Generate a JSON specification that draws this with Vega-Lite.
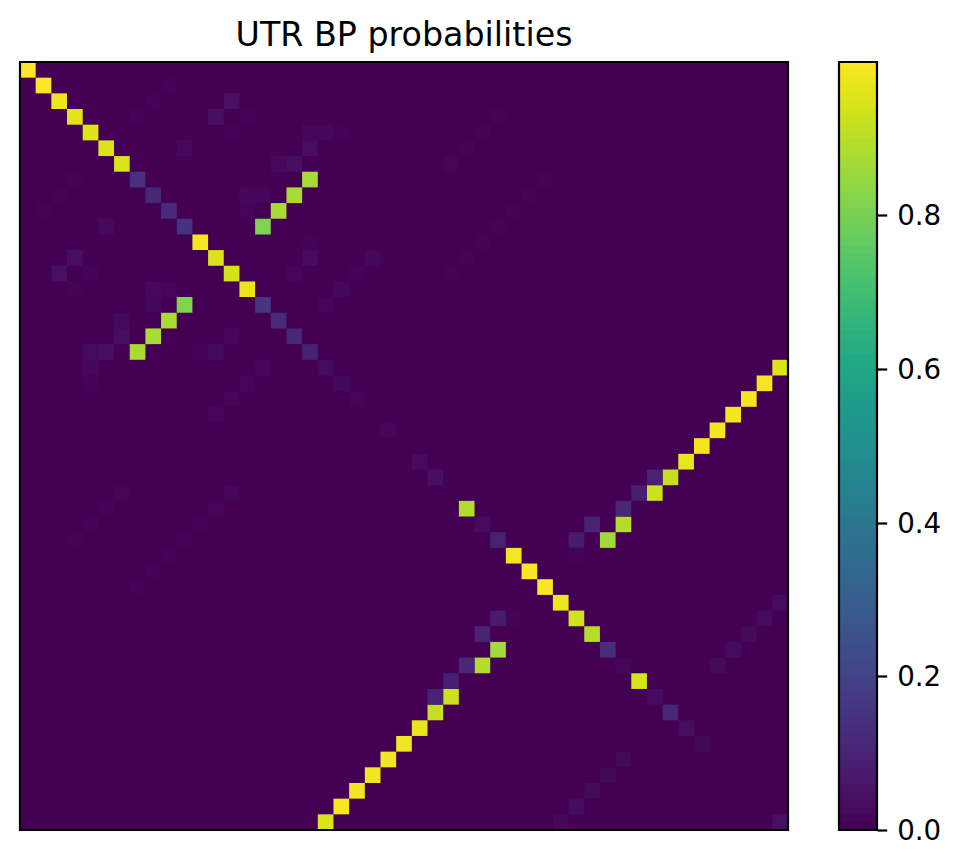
{"$schema":"https://vega.github.io/schema/vega-lite/v6.json","background":"white","padding":{"left":18,"top":18,"right":0,"bottom":30},"spacing":47,"config":{"font":"DejaVu Sans","view":{"stroke":null}},"hconcat":[{"width":768,"height":768,"title":{"text":"UTR BP probabilities","font":"DejaVu Sans","fontSize":33.3,"fontWeight":"normal","color":"black","anchor":"middle","offset":8},"view":{"fill":"#440154"},"layer":[{"data":{"values":[
{"r":0,"c":0,"p":0.999},{"r":1,"c":1,"p":0.999},{"r":2,"c":2,"p":0.97},{"r":3,"c":3,"p":0.955},{"r":4,"c":4,"p":0.95},{"r":5,"c":5,"p":0.945},{"r":6,"c":6,"p":0.94},{"r":7,"c":7,"p":0.14},{"r":8,"c":8,"p":0.105},{"r":9,"c":9,"p":0.12},{"r":10,"c":10,"p":0.145},{"r":11,"c":11,"p":0.985},{"r":12,"c":12,"p":0.945},{"r":13,"c":13,"p":0.935},{"r":14,"c":14,"p":0.965},{"r":15,"c":15,"p":0.155},{"r":16,"c":16,"p":0.12},{"r":17,"c":17,"p":0.105},{"r":18,"c":18,"p":0.095},{"r":19,"c":19,"p":0.025},{"r":20,"c":20,"p":0.015},{"r":21,"c":21,"p":0.008},{"r":23,"c":23,"p":0.012},{"r":25,"c":25,"p":0.025},{"r":26,"c":26,"p":0.035},{"r":27,"c":27,"p":0.003},{"r":28,"c":28,"p":0.885},{"r":29,"c":29,"p":0.025},{"r":30,"c":30,"p":0.09},{"r":31,"c":31,"p":0.985},{"r":32,"c":32,"p":0.995},{"r":33,"c":33,"p":0.995},{"r":34,"c":34,"p":0.975},{"r":35,"c":35,"p":0.93},{"r":36,"c":36,"p":0.89},{"r":37,"c":37,"p":0.13},{"r":38,"c":38,"p":0.01},{"r":39,"c":39,"p":0.94},{"r":40,"c":40,"p":0.025},{"r":41,"c":41,"p":0.105},{"r":42,"c":42,"p":0.03},{"r":43,"c":43,"p":0.015},{"r":48,"c":48,"p":0.04},
{"r":7,"c":18,"p":0.87},{"r":18,"c":7,"p":0.87},{"r":8,"c":17,"p":0.87},{"r":17,"c":8,"p":0.87},{"r":9,"c":16,"p":0.87},{"r":16,"c":9,"p":0.87},{"r":10,"c":15,"p":0.81},{"r":15,"c":10,"p":0.81},
{"r":19,"c":48,"p":0.95},{"r":48,"c":19,"p":0.95},{"r":20,"c":47,"p":0.985},{"r":47,"c":20,"p":0.985},{"r":21,"c":46,"p":0.98},{"r":46,"c":21,"p":0.98},{"r":22,"c":45,"p":0.98},{"r":45,"c":22,"p":0.98},{"r":23,"c":44,"p":0.98},{"r":44,"c":23,"p":0.98},{"r":24,"c":43,"p":0.98},{"r":43,"c":24,"p":0.98},{"r":25,"c":42,"p":0.965},{"r":42,"c":25,"p":0.965},{"r":26,"c":41,"p":0.915},{"r":41,"c":26,"p":0.915},{"r":27,"c":40,"p":0.925},{"r":40,"c":27,"p":0.925},{"r":29,"c":38,"p":0.885},{"r":38,"c":29,"p":0.885},{"r":30,"c":37,"p":0.86},{"r":37,"c":30,"p":0.86},
{"r":26,"c":40,"p":0.09},{"r":40,"c":26,"p":0.09},{"r":27,"c":39,"p":0.08},{"r":39,"c":27,"p":0.08},{"r":28,"c":38,"p":0.105},{"r":38,"c":28,"p":0.105},{"r":29,"c":36,"p":0.095},{"r":36,"c":29,"p":0.095},{"r":30,"c":35,"p":0.07},{"r":35,"c":30,"p":0.07},{"r":31,"c":35,"p":0.005},{"r":35,"c":31,"p":0.005},
{"r":34,"c":48,"p":0.025},{"r":48,"c":34,"p":0.015},{"r":35,"c":47,"p":0.025},{"r":47,"c":35,"p":0.025},{"r":36,"c":46,"p":0.02},{"r":46,"c":36,"p":0.02},{"r":37,"c":45,"p":0.025},{"r":45,"c":37,"p":0.015},{"r":38,"c":44,"p":0.02},{"r":44,"c":38,"p":0.018},
{"r":2,"c":13,"p":0.04},{"r":13,"c":2,"p":0.04},{"r":3,"c":12,"p":0.035},{"r":12,"c":3,"p":0.035},{"r":1,"c":9,"p":0.005},{"r":9,"c":1,"p":0.005},{"r":3,"c":14,"p":0.005},{"r":14,"c":3,"p":0.005},{"r":4,"c":18,"p":0.015},{"r":18,"c":4,"p":0.025},{"r":4,"c":19,"p":0.015},{"r":19,"c":4,"p":0.015},{"r":4,"c":20,"p":0.005},{"r":20,"c":4,"p":0.005},{"r":4,"c":13,"p":0.005},{"r":13,"c":4,"p":0.005},{"r":5,"c":18,"p":0.03},{"r":18,"c":5,"p":0.035},{"r":5,"c":10,"p":0.018},{"r":10,"c":5,"p":0.018},{"r":6,"c":16,"p":0.018},{"r":16,"c":6,"p":0.018},{"r":6,"c":17,"p":0.035},{"r":17,"c":6,"p":0.03},{"r":8,"c":14,"p":0.015},{"r":14,"c":8,"p":0.02},{"r":8,"c":15,"p":0.01},{"r":15,"c":8,"p":0.015},{"r":9,"c":14,"p":0.008},{"r":14,"c":9,"p":0.01},{"r":12,"c":22,"p":0.015},{"r":22,"c":12,"p":0.01},{"r":13,"c":17,"p":0.01},{"r":17,"c":13,"p":0.01},{"r":13,"c":21,"p":0.005},{"r":21,"c":13,"p":0.01},{"r":14,"c":20,"p":0.015},{"r":20,"c":14,"p":0.008},{"r":15,"c":19,"p":0.012},{"r":19,"c":15,"p":0.01},{"r":12,"c":18,"p":0.025},{"r":18,"c":12,"p":0.02},{"r":11,"c":18,"p":0.005},{"r":18,"c":11,"p":0.005},{"r":3,"c":7,"p":0.004},{"r":7,"c":3,"p":0.004},{"r":2,"c":8,"p":0.004},{"r":8,"c":2,"p":0.004},
{"r":3,"c":30,"p":0.005},{"r":30,"c":3,"p":0.005},{"r":4,"c":29,"p":0.005},{"r":29,"c":4,"p":0.005},{"r":5,"c":28,"p":0.005},{"r":28,"c":5,"p":0.005},{"r":6,"c":27,"p":0.007},{"r":27,"c":6,"p":0.007},{"r":7,"c":33,"p":0.005},{"r":33,"c":7,"p":0.005},{"r":8,"c":32,"p":0.005},{"r":32,"c":8,"p":0.005},{"r":9,"c":31,"p":0.005},{"r":31,"c":9,"p":0.005},{"r":10,"c":30,"p":0.005},{"r":30,"c":10,"p":0.005},{"r":11,"c":29,"p":0.005},{"r":29,"c":11,"p":0.005},{"r":12,"c":28,"p":0.005},{"r":28,"c":12,"p":0.007},{"r":13,"c":27,"p":0.005},{"r":27,"c":13,"p":0.009},{"r":15,"c":25,"p":0.003},{"r":25,"c":15,"p":0.003}
]},"mark":{"type":"rect"},"encoding":{"x":{"field":"c","type":"ordinal","sort":null,"scale":{"domain":[0,1,2,3,4,5,6,7,8,9,10,11,12,13,14,15,16,17,18,19,20,21,22,23,24,25,26,27,28,29,30,31,32,33,34,35,36,37,38,39,40,41,42,43,44,45,46,47,48],"paddingInner":0,"paddingOuter":0},"axis":null},"y":{"field":"r","type":"ordinal","sort":null,"scale":{"domain":[0,1,2,3,4,5,6,7,8,9,10,11,12,13,14,15,16,17,18,19,20,21,22,23,24,25,26,27,28,29,30,31,32,33,34,35,36,37,38,39,40,41,42,43,44,45,46,47,48],"paddingInner":0,"paddingOuter":0},"axis":null},"color":{"field":"p","type":"quantitative","scale":{"scheme":"viridis","domain":[0,0.9995]},"legend":null}}},{"data":{"values":[{"frame":1}]},"mark":{"type":"rect","fill":"transparent","stroke":"black","strokeWidth":2.2},"encoding":{}}]},
{"width":38,"height":768,"layer":[{"data":{"values":[{"v":0},{"v":0.01},{"v":0.02},{"v":0.03},{"v":0.04},{"v":0.05},{"v":0.06},{"v":0.07},{"v":0.08},{"v":0.09},{"v":0.1},{"v":0.11},{"v":0.12},{"v":0.13},{"v":0.14},{"v":0.15},{"v":0.16},{"v":0.17},{"v":0.18},{"v":0.19},{"v":0.2},{"v":0.21},{"v":0.22},{"v":0.23},{"v":0.24},{"v":0.25},{"v":0.26},{"v":0.27},{"v":0.28},{"v":0.29},{"v":0.3},{"v":0.31},{"v":0.32},{"v":0.33},{"v":0.34},{"v":0.35},{"v":0.36},{"v":0.37},{"v":0.38},{"v":0.39},{"v":0.4},{"v":0.41},{"v":0.42},{"v":0.43},{"v":0.44},{"v":0.45},{"v":0.46},{"v":0.47},{"v":0.48},{"v":0.49},{"v":0.5},{"v":0.51},{"v":0.52},{"v":0.53},{"v":0.54},{"v":0.55},{"v":0.56},{"v":0.57},{"v":0.58},{"v":0.59},{"v":0.6},{"v":0.61},{"v":0.62},{"v":0.63},{"v":0.64},{"v":0.65},{"v":0.66},{"v":0.67},{"v":0.68},{"v":0.69},{"v":0.7},{"v":0.71},{"v":0.72},{"v":0.73},{"v":0.74},{"v":0.75},{"v":0.76},{"v":0.77},{"v":0.78},{"v":0.79},{"v":0.8},{"v":0.81},{"v":0.82},{"v":0.83},{"v":0.84},{"v":0.85},{"v":0.86},{"v":0.87},{"v":0.88},{"v":0.89},{"v":0.9},{"v":0.91},{"v":0.92},{"v":0.93},{"v":0.94},{"v":0.95},{"v":0.96},{"v":0.97},{"v":0.98},{"v":0.99}]},"mark":{"type":"rect"},"encoding":{"y":{"field":"v","type":"quantitative","scale":{"domain":[0,0.9995],"nice":false,"zero":false},"axis":{"orient":"right","values":[0,0.2,0.4,0.6,0.8],"format":".1f","title":null,"grid":false,"domain":false,"ticks":true,"tickColor":"black","tickSize":9.7,"tickWidth":2.2,"labels":true,"labelColor":"black","labelFont":"DejaVu Sans","labelFontSize":27.7,"labelPadding":10,"labelOffset":1.5}},"y2":{"datum":0.9995},"color":{"field":"v","type":"quantitative","scale":{"scheme":"viridis","domain":[0,0.9995]},"legend":null}}},{"data":{"values":[{"frame":1}]},"mark":{"type":"rect","fill":"transparent","stroke":"black","strokeWidth":2.2},"encoding":{}}]}]}
